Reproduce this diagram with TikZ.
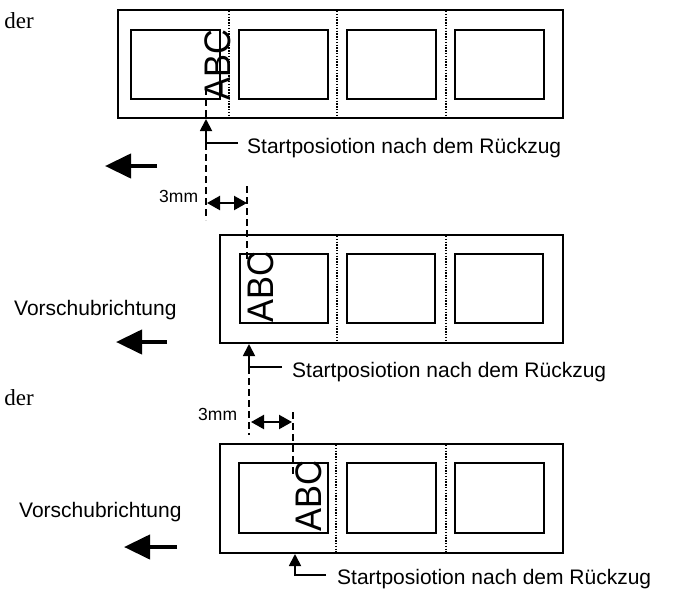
\documentclass[tikz,border=0pt]{standalone}
\usepackage{fontspec}
\setmainfont{Liberation Sans}
\newfontfamily\vzserif{Liberation Serif}
\usetikzlibrary{arrows.meta}
\tikzset{
  vzstreifen/.style={draw=black, line width=2pt},
  vzfeld/.style={draw=black, line width=2pt},
  vztrenner/.style={draw=black, line width=1.3pt, dash pattern=on 1.3pt off 1.5pt},
  vzhilfslinie/.style={draw=black, line width=2pt, dash pattern=on 7pt off 4pt},
  vzrichtung/.style={-{Triangle[length=26pt,width=24pt]}, line width=4.2pt},
  vzmass/.style={{Triangle[length=13pt,width=14pt]}-{Triangle[length=13pt,width=14pt]}, line width=2.2pt},
  vzmarke/.style={-{Triangle[length=12pt,width=12pt]}, line width=1.8pt},
  vztext/.style={font=\fontsize{21}{24}\selectfont, inner sep=0pt},
  vzklein/.style={font=\fontsize{17.5}{20}\selectfont, inner sep=0pt},
  vzdruck/.style={font=\fontsize{37}{42}\selectfont, inner sep=0pt, rotate=90},
}

\begin{document}
\begin{tikzpicture}[x=1pt, y=-1pt]
    \useasboundingbox (0,0) rectangle (674,589);
    % ---------------- Streifen 1 ----------------
    \node[font=\vzserif\fontsize{23}{26}\selectfont, inner sep=0pt, anchor=base east] (der1) at (34,28) {der};
    \draw[vzstreifen] (118,10) rectangle (563,118);
    \foreach \x in {229,337,446} {\draw[vztrenner] (\x,11) -- (\x,117);}
    \foreach \x in {131,239,347,455} {\draw[vzfeld] (\x,30) rectangle ++(89,69);}
    \node[vzdruck] (abc1) at (217.5,65) {\scalebox{0.93}[1]{ABC}};
    \draw[vzhilfslinie] (206,88) -- (206,220);
    \coordinate (p1) at (206,119);
    \coordinate (k1) at (238,143);
    \draw[vzmarke] (k1) -| (p1);
    \node[vztext, anchor=base west] (t1) at (247,153) {Startposiotion nach dem Rückzug};
    \coordinate (r1a) at (157,166);
    \coordinate (r1b) at (105,166);
    \draw[vzrichtung] (r1a) -- (r1b);
    \node[vzklein, anchor=base west] (mm1) at (159,202) {3mm};
    \draw[vzhilfslinie] (247,186) -- (247,262);
    \coordinate (a1) at (207,203);
    \coordinate (b1) at (247,203);
    \draw[vzmass] (a1) -- (b1);
    % ---------------- Streifen 2 ----------------
    \draw[vzstreifen] (220,235) rectangle (563,343);
    \foreach \x in {337,446} {\draw[vztrenner] (\x,236) -- (\x,342);}
    \foreach \x in {240,347,455} {\draw[vzfeld] (\x,254) rectangle ++(88,69);}
    \node[vzdruck] (abc2) at (260.5,287.5) {\scalebox{0.93}[1]{ABC}};
    \node[vztext, anchor=base west] (v2) at (14,315) {Vorschubrichtung};
    \coordinate (r2a) at (167,342);
    \coordinate (r2b) at (116,342);
    \draw[vzrichtung] (r2a) -- (r2b);
    \coordinate (p2) at (249,344);
    \coordinate (k2) at (282,367);
    \draw[vzmarke] (k2) -| (p2);
    \node[vztext, anchor=base west] (t2) at (292,377) {Startposiotion nach dem Rückzug};
    \draw[vzhilfslinie] (249,367) -- (249,435);
    \node[font=\vzserif\fontsize{23}{26}\selectfont, inner sep=0pt, anchor=base east] (der2) at (34,405) {der};
    % ---------------- Streifen 3 ----------------
    \node[vzklein, anchor=base west] (mm3) at (198,420) {3mm};
    \draw[vzhilfslinie] (293,412) -- (293,477);
    \coordinate (a3) at (251,422);
    \coordinate (b3) at (292,422);
    \draw[vzmass] (a3) -- (b3);
    \draw[vzstreifen] (220,444) rectangle (563,553);
    \foreach \x in {336,446} {\draw[vztrenner] (\x,445) -- (\x,552);}
    \foreach \x in {239,347,455} {\draw[vzfeld] (\x,463) rectangle ++(89,70);}
    \node[vzdruck] (abc3) at (308.5,496) {\scalebox{0.93}[1]{ABC}};
    \node[vztext, anchor=base west] (v3) at (19,517) {Vorschubrichtung};
    \coordinate (r3a) at (177,547);
    \coordinate (r3b) at (124,547);
    \draw[vzrichtung] (r3a) -- (r3b);
    \coordinate (p3) at (295,554);
    \coordinate (k3) at (326,575);
    \draw[vzmarke] (k3) -| (p3);
    \node[vztext, anchor=base west] (t3) at (337,584) {Startposiotion nach dem Rückzug};
\end{tikzpicture}
\end{document}
